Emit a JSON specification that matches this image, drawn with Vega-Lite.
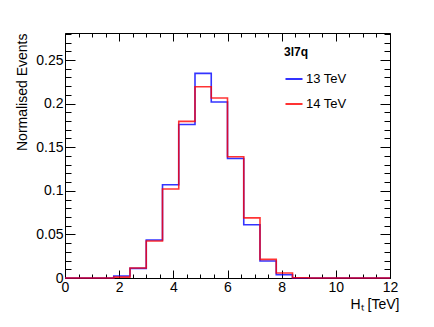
{
  "$schema": "https://vega.github.io/schema/vega-lite/v6.json",
  "width": 325,
  "height": 245,
  "autosize": "none",
  "padding": {"left": 65, "top": 33, "right": 44, "bottom": 49},
  "background": "white",
  "config": {
    "view": {"stroke": null},
    "font": "Liberation Sans",
    "axis": {"labelFont": "Liberation Sans", "titleFont": "Liberation Sans", "labelColor": "black", "titleColor": "black", "domainColor": "black", "tickColor": "black", "grid": false, "titleFontWeight": "normal"}
  },
  "data": {
    "values": [
      {"series": "13 TeV", "x": 0.0, "v": 0},
      {"series": "13 TeV", "x": 0.6, "v": 0},
      {"series": "13 TeV", "x": 1.2, "v": 0},
      {"series": "13 TeV", "x": 1.8, "v": 0.0023},
      {"series": "13 TeV", "x": 2.4, "v": 0.011},
      {"series": "13 TeV", "x": 3.0, "v": 0.0436},
      {"series": "13 TeV", "x": 3.6, "v": 0.107},
      {"series": "13 TeV", "x": 4.2, "v": 0.176},
      {"series": "13 TeV", "x": 4.8, "v": 0.2347},
      {"series": "13 TeV", "x": 5.4, "v": 0.2018},
      {"series": "13 TeV", "x": 6.0, "v": 0.137},
      {"series": "13 TeV", "x": 6.6, "v": 0.061},
      {"series": "13 TeV", "x": 7.2, "v": 0.0195},
      {"series": "13 TeV", "x": 7.8, "v": 0.0038},
      {"series": "13 TeV", "x": 8.4, "v": 0},
      {"series": "13 TeV", "x": 9.0, "v": 0},
      {"series": "13 TeV", "x": 9.6, "v": 0},
      {"series": "13 TeV", "x": 10.2, "v": 0},
      {"series": "13 TeV", "x": 10.8, "v": 0},
      {"series": "13 TeV", "x": 11.4, "v": 0},
      {"series": "13 TeV", "x": 12.0, "v": 0},
      {"series": "14 TeV", "x": 0.0, "v": 0},
      {"series": "14 TeV", "x": 0.6, "v": 0},
      {"series": "14 TeV", "x": 1.2, "v": 0},
      {"series": "14 TeV", "x": 1.8, "v": 0.001},
      {"series": "14 TeV", "x": 2.4, "v": 0.0115},
      {"series": "14 TeV", "x": 3.0, "v": 0.0425},
      {"series": "14 TeV", "x": 3.6, "v": 0.102},
      {"series": "14 TeV", "x": 4.2, "v": 0.1796},
      {"series": "14 TeV", "x": 4.8, "v": 0.2194},
      {"series": "14 TeV", "x": 5.4, "v": 0.2064},
      {"series": "14 TeV", "x": 6.0, "v": 0.139},
      {"series": "14 TeV", "x": 6.6, "v": 0.069},
      {"series": "14 TeV", "x": 7.2, "v": 0.0214},
      {"series": "14 TeV", "x": 7.8, "v": 0.0057},
      {"series": "14 TeV", "x": 8.4, "v": 0.0003},
      {"series": "14 TeV", "x": 9.0, "v": 0},
      {"series": "14 TeV", "x": 9.6, "v": 0},
      {"series": "14 TeV", "x": 10.2, "v": 0},
      {"series": "14 TeV", "x": 10.8, "v": 0},
      {"series": "14 TeV", "x": 11.4, "v": 0},
      {"series": "14 TeV", "x": 12.0, "v": 0}
    ]
  },
  "layer": [
    {
      "mark": {"type": "line", "interpolate": "step-after", "strokeWidth": 1.6, "opacity": 0.8},
      "encoding": {
        "x": {
          "field": "x", "type": "quantitative",
          "scale": {"domain": [0, 12], "nice": false, "zero": false},
          "axis": {
            "orient": "bottom",
            "title": "Hₜ [TeV]",
            "titleFontSize": 14,
            "titleX": 334,
            "titleY": 30,
            "titleAlign": "right",
            "titleBaseline": "alphabetic",
            "values": [0,0.5,1,1.5,2,2.5,3,3.5,4,4.5,5,5.5,6,6.5,7,7.5,8,8.5,9,9.5,10,10.5,11,11.5,12],
            "labelExpr": "datum.value % 2 === 0 ? format(datum.value, 'd') : ''",
            "labelFontSize": 14,
            "labelPadding": 10,
            "labelFlush": false,
            "labelOverlap": false,
            "tickSize": {"condition": {"test": "datum.value % 2 === 0", "value": -8}, "value": -4},
            "tickWidth": 1
          }
        },
        "y": {
          "field": "v", "type": "quantitative",
          "scale": {"domain": [0, 0.281], "nice": false, "zero": true},
          "axis": {
            "orient": "left",
            "title": "Normalised Events",
            "titleFontSize": 14,
            "titleX": -43,
            "titleY": 0,
            "titleAngle": -90,
            "titleAlign": "right",
            "titleBaseline": "middle",
            "values": [0,0.01,0.02,0.03,0.04,0.05,0.06,0.07,0.08,0.09,0.1,0.11,0.12,0.13,0.14,0.15,0.16,0.17,0.18,0.19,0.2,0.21,0.22,0.23,0.24,0.25,0.26,0.27,0.28],
            "labelExpr": "round(datum.value*100) % 5 === 0 ? format(datum.value, '~g') : ''",
            "labelFontSize": 14,
            "labelPadding": 12,
            "labelFlush": false,
            "labelOverlap": false,
            "tickSize": {"condition": {"test": "round(datum.value*100) % 5 === 0", "value": -10}, "value": -6},
            "tickWidth": 1
          }
        },
        "color": {
          "field": "series", "type": "nominal",
          "scale": {"domain": ["13 TeV", "14 TeV"], "range": ["#0000ff", "#ff0000"]},
          "legend": {
            "orient": "none",
            "legendX": 219,
            "legendY": 14,
            "title": "3l7q",
            "titleFontSize": 12,
            "titleFontWeight": "bold",
            "titleFont": "Liberation Sans",
            "titlePadding": 10,
            "labelFontSize": 13,
            "labelFont": "Liberation Sans",
            "labelColor": "black",
            "titleColor": "black",
            "symbolType": "stroke",
            "symbolSize": 290,
            "symbolStrokeWidth": 2,
            "symbolOpacity": 0.8,
            "rowPadding": 8,
            "labelOffset": 2
          }
        }
      }
    },
    {
      "mark": {"type": "line", "interpolate": "step-after", "strokeOpacity": 0},
      "encoding": {
        "x": {
          "field": "x", "type": "quantitative",
          "scale": {"domain": [0, 12], "nice": false, "zero": false},
          "axis": {
            "orient": "top",
            "title": null,
            "labels": false,
            "values": [0,0.5,1,1.5,2,2.5,3,3.5,4,4.5,5,5.5,6,6.5,7,7.5,8,8.5,9,9.5,10,10.5,11,11.5,12],
            "tickSize": {"condition": {"test": "datum.value % 2 === 0", "value": -8}, "value": -4},
            "tickWidth": 1
          }
        },
        "y": {
          "field": "v", "type": "quantitative",
          "scale": {"domain": [0, 0.281], "nice": false, "zero": true},
          "axis": {
            "orient": "right",
            "title": null,
            "labels": false,
            "values": [0,0.01,0.02,0.03,0.04,0.05,0.06,0.07,0.08,0.09,0.1,0.11,0.12,0.13,0.14,0.15,0.16,0.17,0.18,0.19,0.2,0.21,0.22,0.23,0.24,0.25,0.26,0.27,0.28],
            "tickSize": {"condition": {"test": "round(datum.value*100) % 5 === 0", "value": -10}, "value": -6},
            "tickWidth": 1
          }
        },
        "detail": {"field": "series", "type": "nominal"}
      }
    }
  ],
  "resolve": {"axis": {"x": "independent", "y": "independent"}}
}
